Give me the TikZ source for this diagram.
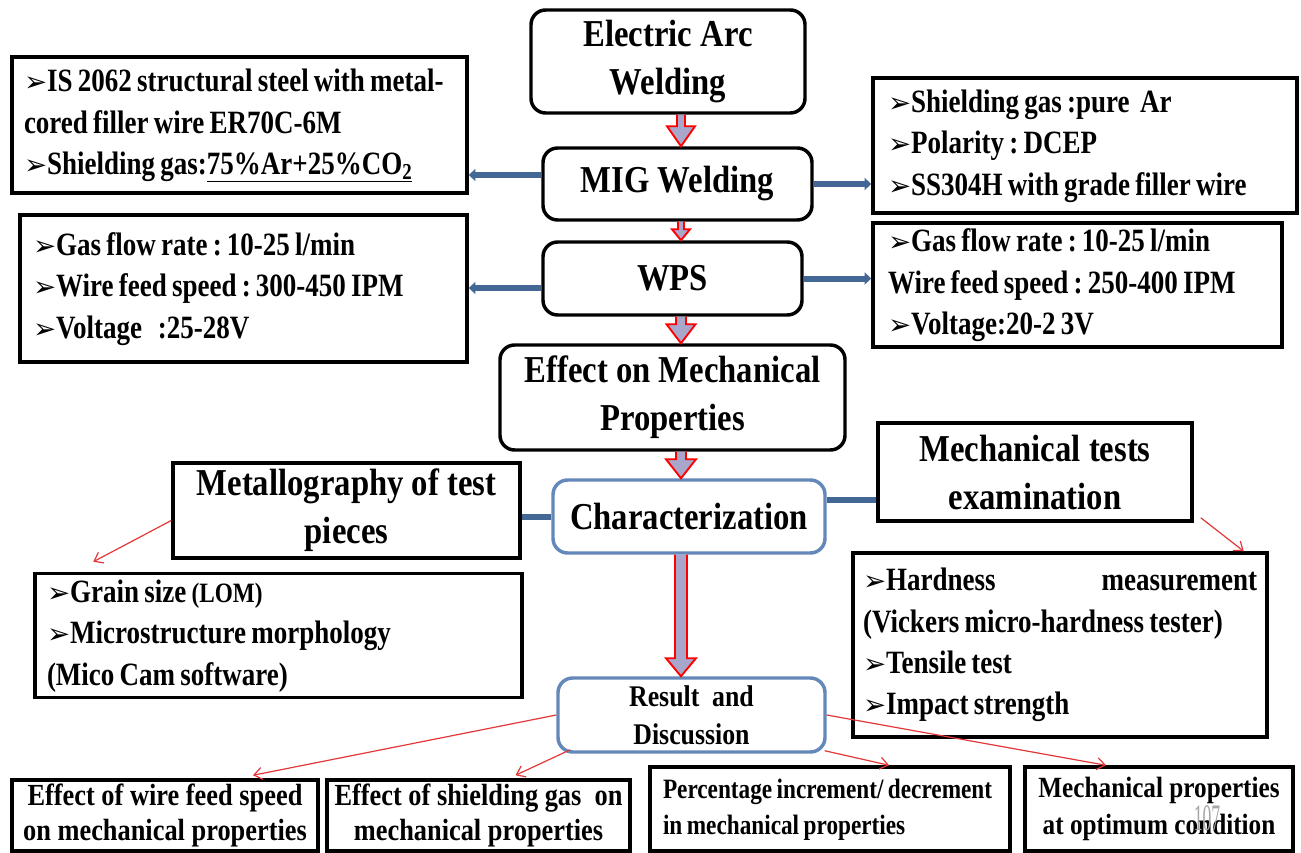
\documentclass[tikz,border=0pt]{standalone}
\usepackage{fontspec}
\setmainfont{Liberation Serif}[FakeStretch=0.86]
\newfontfamily\infofont{Liberation Serif}[FakeStretch=0.83]
\newfontfamily\dingfont{DejaVu Sans}
\usetikzlibrary{positioning}
\usetikzlibrary{calc}
\usetikzlibrary{arrows.meta}
\definecolor{linkblue}{RGB}{68,104,150}
\definecolor{boxblue}{RGB}{100,136,186}
\definecolor{shaftfill}{RGB}{168,166,202}
\definecolor{linkred}{RGB}{228,55,55}
\definecolor{pagegray}{RGB}{165,165,165}
\newcommand\bul{\scalebox{0.85}{\dingfont ➢}}
\newcommand\rows[1]{\begin{tabular}{@{}l@{}}#1\end{tabular}}
\newcommand\tightspace{\frenchspacing\spaceskip=0.16em\relax}
% block arrow down the spine, sizes in px: half shaft, half head, head length
\newcommand\blockarr[5]{%
	\draw[barrow] let \p1=(#1.south -| spine), \p2=(#2.north -| spine) in
		(\x1-#3*0.75pt,\y1) -- (\x1-#3*0.75pt,\y2+#5*0.75pt) -- (\x1-#4*0.75pt,\y2+#5*0.75pt)
		-- (\x1,\y2) -- (\x1+#4*0.75pt,\y2+#5*0.75pt) -- (\x1+#3*0.75pt,\y2+#5*0.75pt)
		-- (\x1+#3*0.75pt,\y1);
}
\tikzset{
	sz/.style 2 args={
		minimum width=#1*0.75pt,
		minimum height=#2*0.75pt
	},
	tw/.style={text width=#1*0.75pt},
	titlebox/.style={
		draw,
		line width=2.6pt,
		rounded corners=11pt,
		align=center,
		inner sep=0pt,
		font=\fontsize{28.5}{36}\selectfont\bfseries
	},
	bluebox/.style={titlebox, draw=boxblue},
	infobox/.style={
		draw,
		line width=2.6pt,
		align=left,
		inner sep=0pt,
		font=\infofont\fontsize{24.4}{31}\selectfont\bfseries,
		execute at begin node=\tightspace
	},
	endbox/.style={
		draw,
		line width=2.6pt,
		align=center,
		inner sep=0pt,
		font=\fontsize{23}{26.5}\selectfont\bfseries
	},
	barrow/.style={draw=red, line width=1.4pt, fill=shaftfill, line join=miter},
	bluelink/.style={draw=linkblue, line width=4.5pt},
	bluetip/.style={-{Triangle[length=5pt,width=9pt]}},
	redlink/.style={draw=linkred, line width=0.9pt, -{Straight Barb[length=6pt,width=9pt]}},
	pagenum/.style={text=pagegray, font=\fontsize{28}{28}\selectfont, inner sep=0pt}
}
\begin{document}
\begin{tikzpicture}[x=0.75pt, y=-0.75pt]
	\useasboundingbox[fill=white] (0,0) rectangle (1301,852);
	\coordinate (spine) at (681,0);

	% main column
	\node[titlebox, sz={274}{103}] (eaw) at (668,61.5) {Electric Arc\\Welding};
	\node[titlebox, sz={269}{72}] (mig) at (677.5,184) {MIG Welding};
	\node[titlebox, sz={259}{73}] (wps) at (672.5,278.5) {WPS};
	\node[titlebox, sz={345}{105}] (effect) at (672.5,397.5) {Effect on Mechanical\\Properties};
	\node[bluebox, sz={272}{73}] (char) at (689,516.5) {Characterization};
	\node[bluebox, sz={267}{74}, font=\fontsize{22.5}{28.5}\selectfont\bfseries] (result) at (691.5,715) {Result\ \ and\\Discussion};

	% side boxes
	\node[infobox, sz={455}{136}, tw=431] (steel) at (239.5,125)
		{\rows{\bul IS 2062 structural steel with metal-\\cored filler wire ER70C-6M\\\bul Shielding gas:\underline{75\%Ar+25\%CO\textsubscript{2}}}};
	\node[infobox, sz={447}{147}, tw=421] (gasl) at (243.5,288.5)
		{\rows{\bul Gas flow rate : 10-25 l/min\\\bul Wire feed speed : 300-450 IPM\\\bul Voltage\ \ \ :25-28V}};
	\node[infobox, sz={424}{135}, tw=394] (shield) at (1085,145.5)
		{\rows{\bul Shielding gas :pure\ \ Ar\\\bul Polarity : DCEP\\\bul SS304H with grade filler wire}};
	\node[infobox, sz={409}{124}, tw=379] (feedr) at (1077.5,285)
		{\rows{\bul Gas flow rate : 10-25 l/min\\Wire feed speed : 250-400 IPM\\\bul Voltage:20-2 3V}};
	\node[titlebox, rounded corners=0pt, sz={347}{95}] (metal) at (346.5,510.5) {Metallography of test\\pieces};
	\node[titlebox, rounded corners=0pt, sz={314}{98}] (mecht) at (1035,472) {Mechanical tests\\examination};
	\node[infobox, sz={487}{123}, tw=463] (grain) at (278.5,635.5)
		{\rows{\bul Grain size {\fontsize{21}{31}\selectfont(LOM)}\\\bul Microstructure morphology\\(Mico Cam software)}};
	\node[infobox, sz={414}{184}, tw=394] (hard) at (1060,645)
		{\bul Hardness\hfill measurement\\(Vickers micro-hardness tester)\\\bul Tensile test\\\bul Impact strength};

	% bottom row
	\node[endbox, sz={306}{71}] (feedspeed) at (165,815.5) {Effect of wire feed speed\\on mechanical properties};
	\node[endbox, sz={303}{71}] (shieldgas) at (478.5,815.5) {Effect of shielding gas\ \ on\\mechanical properties};
	\node[endbox, align=left, sz={360}{84}, tw=334, font=\infofont\fontsize{21}{27.5}\selectfont\bfseries, execute at begin node=\tightspace] (percent) at (830,809)
		{\rows{Percentage increment/ decrement\\in mechanical properties}};
	\node[endbox, sz={268}{84}, font=\fontsize{22}{27.5}\selectfont\bfseries] (optimum) at (1159,809)
		{Mechanical properties\\at optimum condition};
	\node[pagenum] (pgno) at (1207,818) {\scalebox{0.55}[1]{107}};

	% block arrows
	\blockarr{eaw}{mig}{4}{14}{20}
	\blockarr{mig}{wps}{3}{9}{11}
	\blockarr{wps}{effect}{5}{14.5}{19}
	\blockarr{effect}{char}{5}{15}{19}
	\blockarr{char}{result}{6}{15}{18}

	% blue links
	\coordinate (migl) at ($(mig.west)+(0,-9)$);
	\coordinate (wpsl) at ($(wps.west)+(0,9.5)$);
	\coordinate (charr) at ($(char.east)+(0,-16.5)$);
	\draw[bluelink, bluetip] (migl) -- (steel.east |- migl);
	\draw[bluelink, bluetip] (mig.east) -- (shield.west |- mig.east);
	\draw[bluelink, bluetip] (wpsl) -- (gasl.east |- wpsl);
	\draw[bluelink, bluetip] (wps.east) -- (feedr.west |- wps.east);
	\draw[bluelink] (char.west) -- (metal.east |- char.west);
	\draw[bluelink] (charr) -- (mecht.west |- charr);

	% red thin arrows
	\draw[redlink] ($(metal.west)+(0,10)$) -- ($(grain.north west)+(60,-10)$);
	\draw[redlink] ($(mecht.south east)+(7,-5)$) -- ($(hard.north east)+(-25,0)$);
	\draw[redlink] (result.west) -- ($(feedspeed.north)+(88,-3)$);
	\draw[redlink] ($(result.south west)+(14,-4)$) -- ($(shieldgas.north)+(37,-3)$);
	\draw[redlink] ($(result.south east)+(-2,-3)$) -- ($(percent.north)+(59,0)$);
	\draw[redlink] (result.east) -- ($(optimum.north)+(-53,0)$);
\end{tikzpicture}
\end{document}
